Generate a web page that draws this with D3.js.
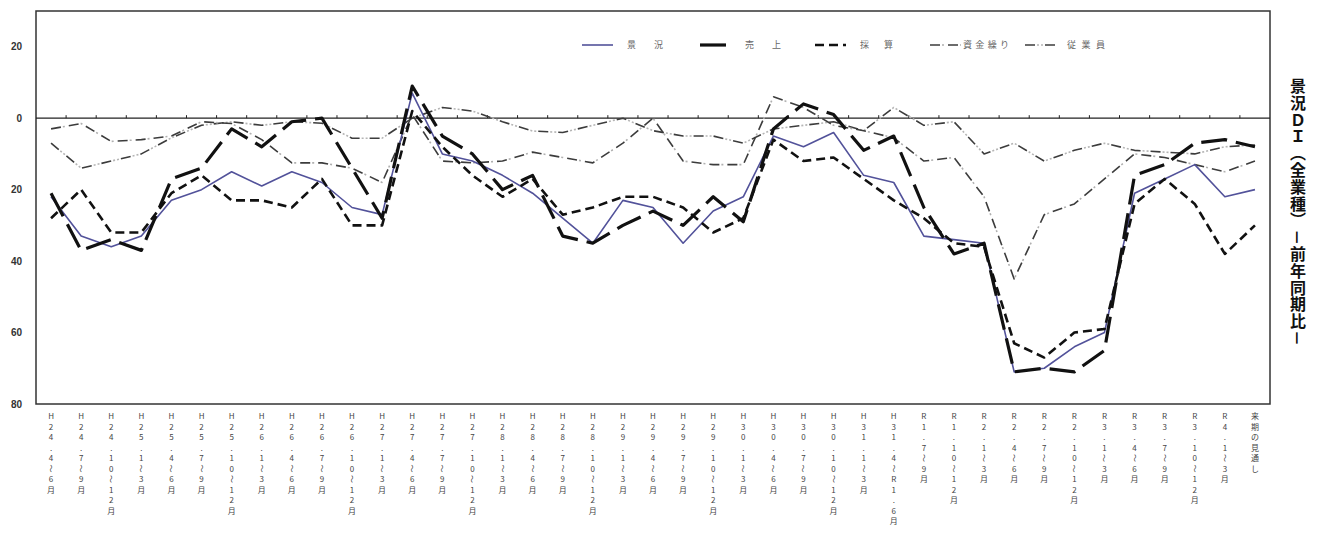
<!DOCTYPE html>
<html>
<head>
<meta charset="utf-8">
<script src="https://cdn.jsdelivr.net/npm/d3@7"></script>
<style>
  body { margin: 0; background: #fff; }
  svg { display: block; }
</style>
</head>
<body>
<svg id="chart" width="1327" height="552"></svg>
<script>
const categories = [
  "H24.4～6月", "H24.7～9月", "H24.10～12月", "H25.1～3月", "H25.4～6月", "H25.7～9月",
  "H25.10～12月", "H26.1～3月", "H26.4～6月", "H26.7～9月", "H26.10～12月", "H27.1～3月",
  "H27.4～6月", "H27.7～9月", "H27.10～12月", "H28.1～3月", "H28.4～6月", "H28.7～9月",
  "H28.10～12月", "H29.1～3月", "H29.4～6月", "H29.7～9月", "H29.10～12月", "H30.1～3月",
  "H30.4～6月", "H30.7～9月", "H30.10～12月", "H31.1～3月", "H31.4～R1.6月", "R1.7～9月",
  "R1.10～12月", "R2.1～3月", "R2.4～6月", "R2.7～9月", "R2.10～12月", "R3.1～3月",
  "R3.4～6月", "R3.7～9月", "R3.10～12月", "R4.1～3月", "来期の見通し"
];

// 景況
const keikyo = [-22, -33, -36, -33, -23, -20, -15, -19, -15, -18, -25, -27, 7, -10, -12, -16, -21, -28, -35, -23,
  -25, -35, -26, -22, -5, -8, -4, -16, -18, -33, -34, -35, -71, -70, -64, -60, -21, -17, -13, -22, -20];
// 売上
const uriage = [-21, -37, -34, -37, -17, -14, -3, -8, -1, 0, -14, -28, 9, -5, -10, -20, -16, -33, -35, -30,
  -26, -30, -22, -29, -3, 4, 1, -9, -5, -25, -38, -35, -71, -70, -71, -65, -16, -13, -7, -6, -8];
// 採算
const saisan = [-28, -20, -32, -32, -21, -16, -23, -23, -25, -17, -30, -30, 2, -8, -16, -22, -17, -27, -25, -22,
  -22, -25, -32, -28, -6, -12, -11, -17, -23, -28, -35, -36, -63, -67, -60, -59, -24, -17, -24, -38, -30];
// 資金繰り
const shikin = [-3, -1.5, -6.5, -6, -5, -1, -1.5, -6, -12.5, -12.5, -14, -18, 1, -12, -12.5, -12, -9.5, -11, -12.5, -7,
  0, -12, -13, -13, 6, 3, -2, -3.5, -5.5, -12, -11, -22, -45, -27, -24, -17, -10, -11, -13, -15, -12];
// 従業員
const jugyoin = [-7, -14, -12, -10, -5.5, -2, -1, -2, -1, -1.4, -5.6, -5.6, 0, 3, 2, -1, -3.6, -4, -2, 0,
  -3.5, -5, -5, -7, -3, -2, -1, -3.5, 3, -2, -1, -10, -7, -12, -9, -7, -9, -9.5, -10, -8, -7.5];

const seriesNames = ["景　況", "売　上", "採　算", "資金繰り", "従業員"];
const yTicks = [20, 0, -20, -40, -60, -80];
const yTitle = "景況ＤＩ（全業種）－前年同期比－";

const svg = d3.select("#chart");

const plot = { left: 36, right: 1270, top: 11, bottom: 404 };

const x = d3.scaleBand()
  .domain(categories)
  .range([plot.left, plot.right])
  .padding(0);

const y = d3.scaleLinear()
  .domain([-80, 30])
  .range([plot.bottom, plot.top]);

const cx = d => x(d) + x.bandwidth() / 2;

const series = [
  { name: seriesNames[4], values: jugyoin, layers: [
    { stroke: "#3c3c3c", width: 1.6, dash: "10,10" },
    { stroke: "#b5b5b5", width: 1.6, dash: "0,12,2,2,2,2" }
  ] },
  { name: seriesNames[3], values: shikin, layers: [
    { stroke: "#3c3c3c", width: 1.6, dash: "10,8" },
    { stroke: "#b0b0b0", width: 1.6, dash: "0,12,2,4" }
  ] },
  { name: seriesNames[0], values: keikyo, layers: [
    { stroke: "#52529a", width: 1.6, dash: null }
  ] },
  { name: seriesNames[2], values: saisan, layers: [
    { stroke: "#111", width: 2.6, dash: "9,5" }
  ] },
  { name: seriesNames[1], values: uriage, layers: [
    { stroke: "#111", width: 3.2, dash: "26,9" }
  ] }
];

// plot frame
svg.append("rect")
  .attr("x", plot.left)
  .attr("y", plot.top)
  .attr("width", plot.right - plot.left)
  .attr("height", plot.bottom - plot.top)
  .attr("fill", "none")
  .attr("stroke", "#333")
  .attr("stroke-width", 1.5);

// zero line with small ticks between categories
svg.append("line")
  .attr("x1", plot.left)
  .attr("x2", plot.right)
  .attr("y1", y(0))
  .attr("y2", y(0))
  .attr("stroke", "#222")
  .attr("stroke-width", 1.3);

svg.selectAll(".zero-tick")
  .data(categories.slice(1))
  .enter()
  .append("line")
  .attr("class", "zero-tick")
  .attr("x1", d => x(d))
  .attr("x2", d => x(d))
  .attr("y1", y(0))
  .attr("y2", y(0) - 3)
  .attr("stroke", "#222")
  .attr("stroke-width", 1);

// y axis labels (shown without minus sign, as in the original)
const yAxis = svg.append("g")
  .attr("transform", `translate(${plot.left},0)`)
  .call(d3.axisLeft(y).tickValues(yTicks).tickSize(0).tickPadding(14).tickFormat(d => Math.abs(d)));
yAxis.select(".domain").remove();
yAxis.selectAll("text")
  .attr("font-family", "Liberation Sans, Arial, sans-serif")
  .attr("font-size", 10)
  .attr("font-weight", "bold")
  .attr("fill", "#333");

// lines
const line = d3.line()
  .x((d, i) => cx(categories[i]))
  .y(d => y(d));

series.forEach(s => {
  s.layers.forEach(l => {
    svg.append("path")
      .datum(s.values)
      .attr("d", line)
      .attr("fill", "none")
      .attr("stroke", l.stroke)
      .attr("stroke-width", l.width)
      .attr("stroke-dasharray", l.dash)
      .attr("stroke-linejoin", "round");
  });
});

// x labels, one character per row
categories.forEach(c => {
  const g = svg.append("g").attr("transform", `translate(${cx(c)},0)`);
  Array.from(c).forEach((ch, j) => {
    const yy = 419 + j * 10.5;
    g.append("text")
      .attr("x", 0)
      .attr("y", yy)
      .attr("text-anchor", "middle")
      .attr("font-family", "Noto Sans CJK JP, sans-serif")
      .attr("font-size", 8)
      .attr("fill", "#444")
      .attr("transform", ch === "～" ? `rotate(90,0,${yy - 3})` : null)
      .text(ch);
  });
});

// legend
const legendLines = [582, 700, 815, 930, 1025];
const legendText = [627, 745, 860, 963, 1067];
const legendWidth = [36, 36, 33, 46, 38];
const legendOrder = [2, 4, 3, 1, 0];
legendOrder.forEach((si, k) => {
  const s = series[si];
  s.layers.forEach(l => {
    svg.append("line")
      .attr("x1", legendLines[k])
      .attr("x2", legendLines[k] + 31)
      .attr("y1", 45)
      .attr("y2", 45)
      .attr("stroke", l.stroke)
      .attr("stroke-width", l.width)
      .attr("stroke-dasharray", l.dash);
  });
  svg.append("text")
    .attr("x", legendText[k])
    .attr("y", 48)
    .attr("font-family", "Noto Sans CJK JP, sans-serif")
    .attr("font-size", 9)
    .attr("fill", "#666")
    .attr("textLength", legendWidth[k])
    .attr("lengthAdjust", "spacing")
    .text(s.name);
});

// right-side title, vertical
svg.append("text")
  .attr("x", 1298)
  .attr("y", 78)
  .attr("font-family", "Noto Sans CJK JP, sans-serif")
  .attr("font-size", 16)
  .attr("font-weight", "bold")
  .attr("fill", "#111")
  .attr("letter-spacing", 0.8)
  .style("writing-mode", "vertical-rl")
  .text(yTitle);
</script>
</body>
</html>
